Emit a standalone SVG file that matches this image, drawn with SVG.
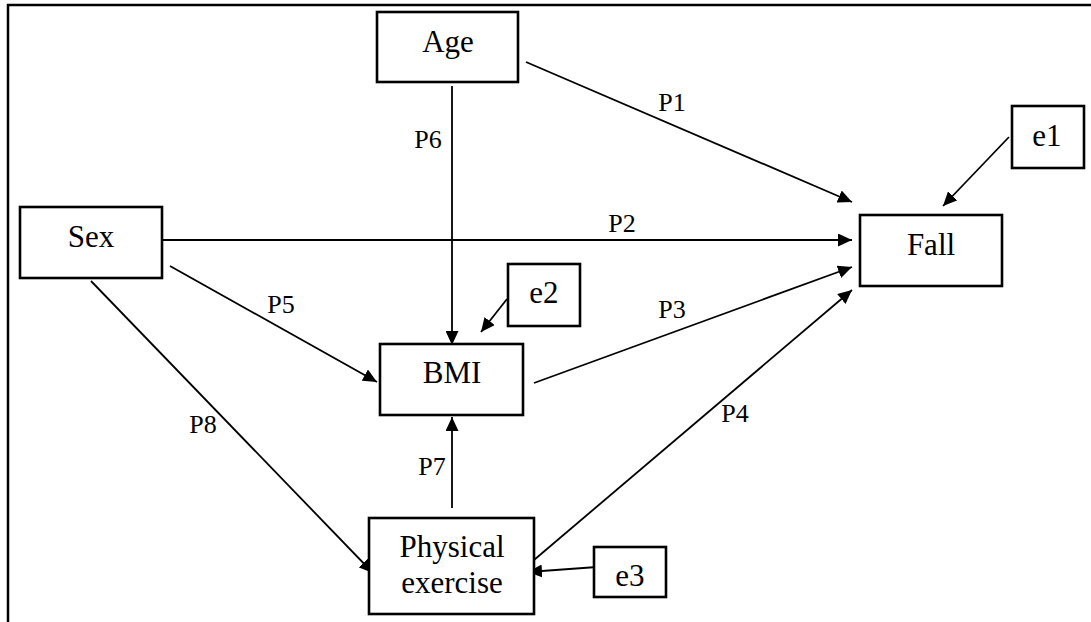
<svg xmlns="http://www.w3.org/2000/svg" width="1091" height="622" viewBox="0 0 1091 622">
<style>
.box{fill:#fff;stroke:#000;stroke-width:2.6}
.nt{font-family:"Liberation Serif","Times New Roman",serif;font-size:31px;fill:#000;text-anchor:middle}
.pl{font-family:"Liberation Serif","Times New Roman",serif;font-size:26px;fill:#000;text-anchor:middle}
.ln{stroke:#000;stroke-width:1.8;fill:none;marker-end:url(#ah)}
</style>
<defs>
<marker id="ah" markerUnits="userSpaceOnUse" markerWidth="15" markerHeight="13" refX="14" refY="6.5" orient="auto">
<path d="M0,0 L14,6.5 L0,13 z" fill="#000"/>
</marker>
</defs>
<rect width="1091" height="622" fill="#fff"/>
<path d="M8,622 V5 H1091" fill="none" stroke="#000" stroke-width="2.5"/>
<g id="connectors">
<line class="ln" x1="526" y1="62" x2="852" y2="202"/>
<line class="ln" x1="163" y1="240" x2="852" y2="240"/>
<line class="ln" x1="534" y1="383" x2="852" y2="267"/>
<line class="ln" x1="534" y1="560" x2="852" y2="290"/>
<line class="ln" x1="170" y1="266" x2="377" y2="382"/>
<line class="ln" x1="452" y1="86" x2="452" y2="345"/>
<line class="ln" x1="452" y1="508" x2="452" y2="417"/>
<line class="ln" x1="91" y1="281" x2="373" y2="573"/>
<line class="ln" x1="1009" y1="137" x2="943" y2="206"/>
<line class="ln" x1="507" y1="299" x2="481" y2="332"/>
<line class="ln" x1="597" y1="567" x2="528" y2="572"/>
<text class="pl" x="672" y="111">P1</text>
<text class="pl" x="622" y="232">P2</text>
<text class="pl" x="672" y="318">P3</text>
<text class="pl" x="735" y="422">P4</text>
<text class="pl" x="281" y="313">P5</text>
<text class="pl" x="428" y="148">P6</text>
<text class="pl" x="432" y="475">P7</text>
<text class="pl" x="203" y="433">P8</text>
</g>
<g id="age"><rect class="box" x="377" y="12" width="141" height="70"/><text class="nt" x="448" y="52">Age</text></g>
<g id="sex"><rect class="box" x="20" y="207" width="142" height="71"/><text class="nt" x="91" y="247">Sex</text></g>
<g id="fall"><rect class="box" x="860" y="215" width="142" height="71"/><text class="nt" x="931" y="255">Fall</text></g>
<g id="e1"><rect class="box" x="1012" y="106" width="72" height="62"/><text class="nt" x="1047" y="146">e1</text></g>
<g id="e2"><rect class="box" x="508" y="264" width="72" height="62"/><text class="nt" x="544" y="303">e2</text></g>
<g id="bmi"><rect class="box" x="380" y="344" width="143" height="71"/><text class="nt" x="452" y="383">BMI</text></g>
<g id="physical-exercise"><rect class="box" x="369" y="518" width="165" height="96"/><text class="nt" x="452" y="557">Physical</text><text class="nt" x="452" y="593">exercise</text></g>
<g id="e3"><rect class="box" x="594" y="547" width="72" height="50"/><text class="nt" x="630" y="586">e3</text></g>
</svg>
